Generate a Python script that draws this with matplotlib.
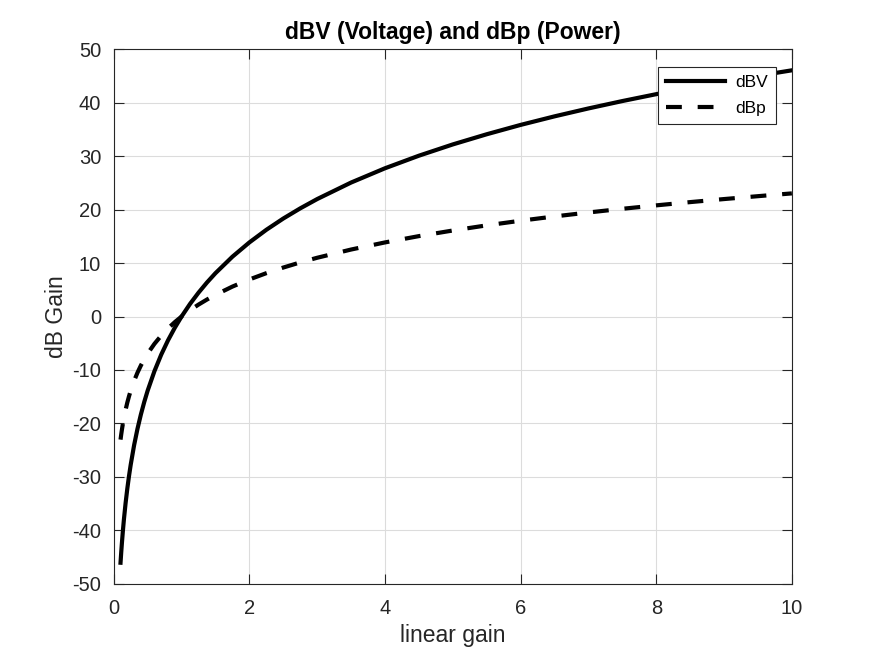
import matplotlib
matplotlib.use("Agg")
import matplotlib.pyplot as plt

plt.rcParams['font.family'] = ['Liberation Sans', 'DejaVu Sans']
plt.rcParams['axes.unicode_minus'] = False

linear_gain = [0.1, 0.11, 0.12, 0.135, 0.15, 0.175, 0.2, 0.225, 0.25, 0.3, 0.35, 0.4, 0.45,
               0.5, 0.6, 0.7, 0.8, 0.9, 1.0, 1.125, 1.25, 1.375, 1.5, 1.75, 2.0, 2.25, 2.5,
               2.75, 3.0, 3.5, 4.0, 4.5, 5.0, 5.5, 6.0, 6.5, 7.0, 7.5, 8.0, 8.5, 9.0,
               9.5, 10.0]
dBV = [-46.05, -44.14, -42.41, -40.05, -37.94, -34.86, -32.19, -29.83, -27.73, -24.08,
       -21.00, -18.33, -15.97, -13.86, -10.22, -7.13, -4.46, -2.11, 0.0, 2.36, 4.46,
       6.37, 8.11, 11.19, 13.86, 16.22, 18.33, 20.23, 21.97, 25.06, 27.73, 30.08,
       32.19, 34.09, 35.84, 37.44, 38.92, 40.30, 41.59, 42.80, 43.94, 45.03, 46.05]
dBp = [-23.03, -22.07, -21.20, -20.02, -18.97, -17.43, -16.09, -14.92, -13.86, -12.04,
       -10.50, -9.16, -7.99, -6.93, -5.11, -3.57, -2.23, -1.05, 0.0, 1.18, 2.23,
       3.18, 4.05, 5.60, 6.93, 8.11, 9.16, 10.12, 10.99, 12.53, 13.86, 15.04,
       16.09, 17.05, 17.92, 18.72, 19.46, 20.15, 20.79, 21.40, 21.97, 22.51, 23.03]

fig = plt.figure(figsize=(8.75, 6.56), dpi=100)
ax = fig.add_axes([0.13, 0.11, 0.775, 0.815])

ax.plot(linear_gain, dBV, color='black', linewidth=3.0, label='dBV')
ax.plot(linear_gain, dBp, color='black', linewidth=3.0, linestyle=(0, (3.8, 3.8)), label='dBp')

ax.set_xlim(0, 10)
ax.set_ylim(-50, 50)
ax.set_xticks(range(0, 11, 2))
ax.set_yticks(range(-50, 51, 10))
ax.grid(True, color='#dcdcdc', linewidth=0.8)
ax.set_axisbelow(True)
ax.tick_params(direction='in', top=True, right=True, labelsize=14.5, colors='#262626',
               length=7, width=0.8)
ax.tick_params(axis='y', pad=9)
ax.tick_params(axis='x', pad=11)
for s in ax.spines.values():
    s.set_color('#262626')
    s.set_linewidth(0.8)

ax.set_xlabel('linear gain', fontsize=16.5, color='#262626', labelpad=4)
ax.set_ylabel('dB Gain', fontsize=16.5, color='#262626', labelpad=3)
ax.set_title('dBV (Voltage) and dBp (Power)', fontsize=16.5, fontweight='bold', pad=7)

leg = ax.legend(loc='upper right', bbox_to_anchor=(0.9765, 0.966), borderaxespad=0,
                fontsize=12.5, fancybox=False, framealpha=1, edgecolor='#262626',
                handlelength=3.4, borderpad=0.45, labelspacing=0.6, handletextpad=0.6)
leg.get_frame().set_linewidth(0.8)

fig.savefig('out.png', dpi=100)
